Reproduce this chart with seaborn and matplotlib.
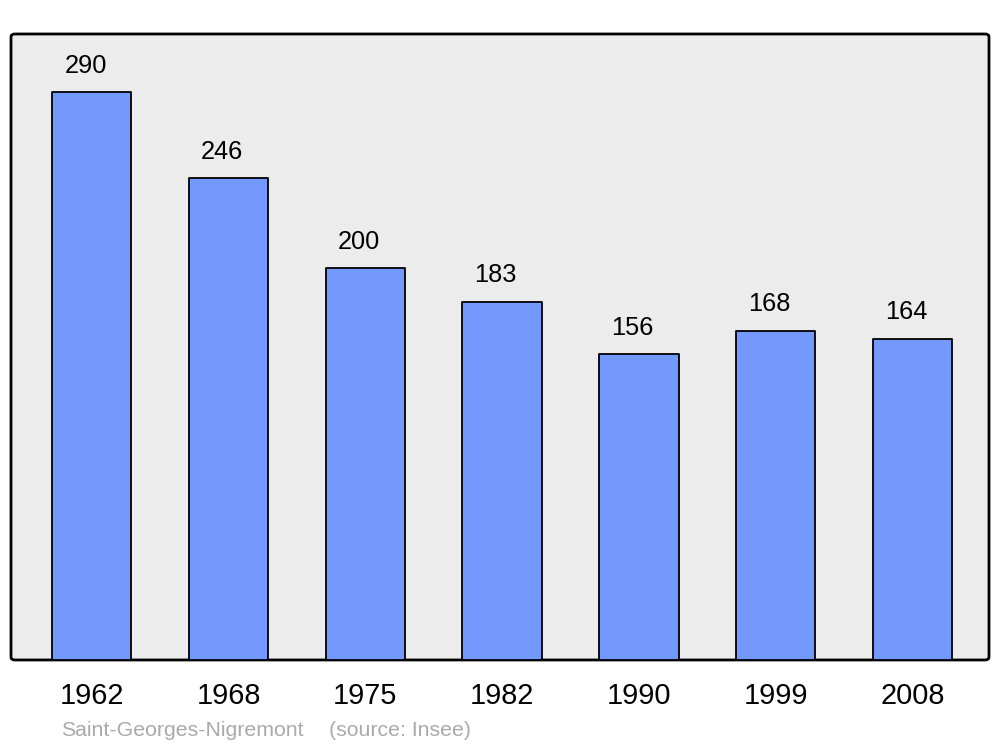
import matplotlib
matplotlib.use("Agg")
import matplotlib.pyplot as plt
import seaborn as sns
from matplotlib.patches import FancyBboxPatch

# Population data
years = ["1962", "1968", "1975", "1982", "1990", "1999", "2008"]
population = [290, 246, 200, 183, 156, 168, 164]
commune = "Saint-Georges-Nigremont"
source = "(source: Insee)"

BAR_COLOR = "#7399ff"
BG_COLOR = "#ececec"

sns.set_theme(style="white")
plt.rcParams["font.family"] = ["Liberation Sans", "DejaVu Sans"]

fig = plt.figure(figsize=(10, 7.47), dpi=100)
ax = fig.add_axes([0.011, 0.1165, 0.978, 0.838])

sns.barplot(x=years, y=population, color=BAR_COLOR, saturation=1,
            edgecolor="black", linewidth=1.3, width=0.58, ax=ax, zorder=3)
for p in ax.patches:
    p.set_joinstyle("round")

ax.set_xlim(-0.59, 6.56)
ax.set_ylim(0, 319.6)

# rounded frame behind the bars
ax.patch.set_visible(False)
for s in ax.spines.values():
    s.set_visible(False)
frame = FancyBboxPatch((0, 0), 1, 1, boxstyle="round,pad=0,rounding_size=0.004",
                       transform=ax.transAxes, facecolor=BG_COLOR,
                       edgecolor="black", linewidth=2, clip_on=False, zorder=0,
                       mutation_aspect=1.2)
ax.add_patch(frame)

# value labels
for i, v in enumerate(population):
    ax.annotate(str(v), xy=(i, v), xytext=(-4.5, 14), textcoords="offset points",
                ha="center", va="baseline", fontsize=18.3, color="black", zorder=4)

ax.set_yticks([])
ax.tick_params(axis="x", length=0, pad=16, labelsize=20.8, labelcolor="black")
ax.set_xlabel("")
ax.set_ylabel("")

fig.text(0.061, 1 - 730 / 747, commune, color="#aaaaaa", fontsize=15.3, va="center")
fig.text(0.329, 1 - 730 / 747, source, color="#aaaaaa", fontsize=15.3, va="center")

fig.savefig("out.png", dpi=100, facecolor="white")
